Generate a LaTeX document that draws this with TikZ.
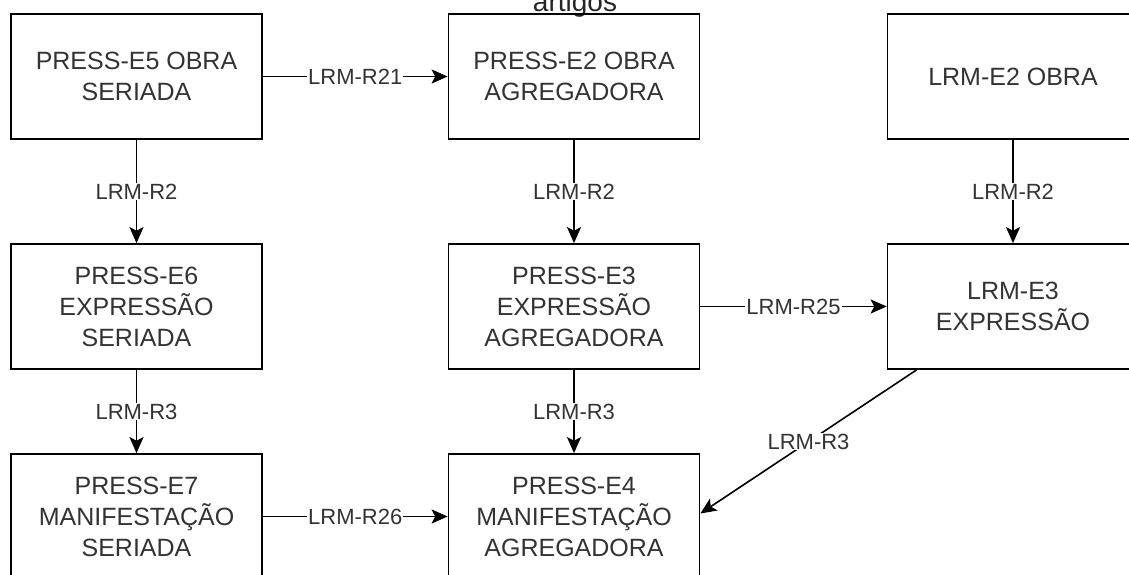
\documentclass[tikz,border=0pt]{standalone}
\usepackage{fontspec}
\setmainfont{Liberation Sans}
\usetikzlibrary{arrows.meta}

\tikzstyle{entity}=[rectangle,draw=black,line width=1.7pt,minimum width=251pt,minimum height=125pt,inner sep=0pt,align=center,text=black!80,font=\fontsize{25}{31}\selectfont]
\tikzstyle{rel} = [draw,line width=1.6pt,-{Stealth[length=16pt,width=14pt,inset=3.5pt]}]
\tikzstyle{weight} = [fill=white,inner sep=1pt,text=black!80,font=\fontsize{22}{26}\selectfont]

\begin{document}
\begin{tikzpicture}[x=1pt,y=-1pt]
\clip (0,0) rectangle (1129,575);
\node[anchor=base,text=black!85,font=\fontsize{28}{32}\selectfont] (title) at (575,12) {artigos};
\foreach \pos/\name/\txt in {{(136.5,76.5)/e5/{PRESS-E5 OBRA\\SERIADA}}, {(574,76.5)/e2/{PRESS-E2 OBRA\\AGREGADORA}}, {(1013,76.5)/lrme2/{LRM-E2 OBRA}},
  {(136.5,306.5)/e6/{PRESS-E6\\EXPRESSÃO\\SERIADA}}, {(574,306.5)/e3/{PRESS-E3\\EXPRESSÃO\\AGREGADORA}}, {(1013,306.5)/lrme3/{LRM-E3\\EXPRESSÃO}},
  {(136.5,516.5)/e7/{PRESS-E7\\MANIFESTAÇÃO\\SERIADA}}, {(574,516.5)/e4/{PRESS-E4\\MANIFESTAÇÃO\\AGREGADORA}}}
\node[entity] (\name) at \pos {\txt};
\foreach \source/\dest/\weight in {e5/e2/LRM-R21, e5/e6/LRM-R2, e2/e3/LRM-R2, lrme2/lrme3/LRM-R2, e3/lrme3/LRM-R25, e6/e7/LRM-R3, e3/e4/LRM-R3, e7/e4/LRM-R26}
\draw[rel] (\source) edge node[weight] {\weight} (\dest);
\draw[rel] ([xshift=30pt]lrme3.south west) -- node[weight] {LRM-R3} ([yshift=3pt]e4.east);
\end{tikzpicture}
\end{document}
